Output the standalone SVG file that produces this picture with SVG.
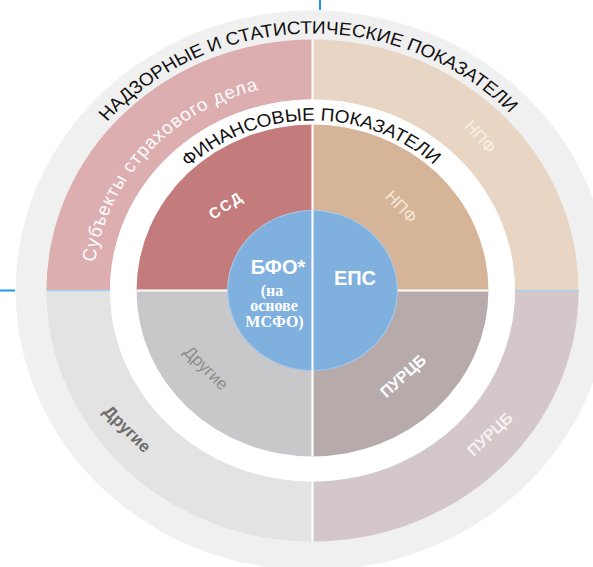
<svg xmlns="http://www.w3.org/2000/svg" width="593" height="567" viewBox="0 0 593 567">
<style>
.t{font-family:"Liberation Sans",Arial,sans-serif}
.title{font-family:"Liberation Sans",Arial,sans-serif;font-size:18px;fill:#111}
.title2{font-family:"Liberation Sans",Arial,sans-serif;font-size:18px;fill:#111}
.wl{font-family:"Liberation Sans",Arial,sans-serif;fill:#fff}
.div{stroke:#fff;stroke-width:2;fill:none}
.blue{stroke:#a3d4ef;stroke-width:1.5}
.art{stroke:#1a9be2;stroke-width:2}
.sf{font-family:"Liberation Serif","Times New Roman",serif;font-weight:bold;font-size:16px;fill:#fff}
</style>
<defs>
<path id="pOuter" d="M-257,0 A257,257 0 0 1 257,0"/>
<path id="pInner" d="M-170,0 A170,170 0 0 1 170,0"/>
<path id="pSub" d="M-207,0 A207,207 0 0 1 207,0"/>
</defs>
<rect width="593" height="567" fill="#fff"/>
<g transform="translate(312.5,290.5) scale(1.06,1)">
  <g id="ring-supervisory">
    <circle r="280" fill="#f0f0f0"/>
    <text class="title"><textPath href="#pOuter" startOffset="49.3%" text-anchor="middle">НАДЗОРНЫЕ И СТАТИСТИЧЕСКИЕ ПОКАЗАТЕЛИ</textPath></text>
  </g>
  <g id="outer-insurance">
    <path d="M-251,0 A251,251 0 0 1 0,-251 L0,-191 A191,191 0 0 0 -191,0 Z" fill="#dcaeb0"/>
    <text class="wl" font-size="18" letter-spacing="0.9"><textPath href="#pSub" startOffset="23.3%" text-anchor="middle">Субъекты страхового дела</textPath></text>
  </g>
  <g id="outer-npf">
    <path d="M0,-251 A251,251 0 0 1 251,0 L191,0 A191,191 0 0 0 0,-191 Z" fill="#e8d5c3"/>
  </g>
  <g id="outer-purcb">
    <path d="M251,0 A251,251 0 0 1 0,251 L0,191 A191,191 0 0 0 191,0 Z" fill="#d3c7c9"/>
  </g>
  <g id="outer-other">
    <path d="M0,251 A251,251 0 0 1 -251,0 L-191,0 A191,191 0 0 0 0,191 Z" fill="#e3e3e3"/>
  </g>
  <g id="ring-financial">
    <circle r="191" fill="#fff"/>
    <text class="title2"><textPath href="#pInner" startOffset="49.7%" text-anchor="middle">ФИНАНСОВЫЕ ПОКАЗАТЕЛИ</textPath></text>
  </g>
  <g id="inner-ssd">
    <path d="M0,0 L-166,0 A166,166 0 0 1 0,-166 Z" fill="#c47b7b"/>
  </g>
  <g id="inner-npf">
    <path d="M0,0 L0,-166 A166,166 0 0 1 166,0 Z" fill="#d5b497"/>
  </g>
  <g id="inner-purcb">
    <path d="M0,0 L166,0 A166,166 0 0 1 0,166 Z" fill="#b6aaab"/>
  </g>
  <g id="inner-other">
    <path d="M0,0 L0,166 A166,166 0 0 1 -166,0 Z" fill="#c8c8ca"/>
  </g>
  <g id="connectors">
    <line class="div" x1="0" y1="-251" x2="0" y2="-191"/>
    <line class="div" x1="0" y1="191" x2="0" y2="251"/>
    <line class="div" x1="0" y1="-166" x2="0" y2="166"/>
    <line class="div" x1="-166" y1="0" x2="166" y2="0" stroke-width="1.5"/>
    <line class="blue" x1="-251" y1="0" x2="-191" y2="0"/>
    <line class="blue" x1="191" y1="0" x2="251" y2="0"/>
  </g>
  <g id="core">
    <circle r="80" fill="#7fb0de" stroke="#a9c9ea" stroke-width="1"/>
    <line class="div" x1="0" y1="-80" x2="0" y2="80" stroke-width="1.5"/>
  </g>
</g>
<g id="labels">
  <text class="wl" font-size="15" font-weight="bold" letter-spacing="2" transform="translate(226,205) rotate(-33)" text-anchor="middle" dominant-baseline="central">ССД</text>
  <text class="wl" font-size="17" style="fill:#f4e7da" transform="translate(401,207) rotate(47)" text-anchor="middle" dominant-baseline="central">НПФ</text>
  <text class="wl" font-size="17" style="fill:#f8efe6" transform="translate(480,137) rotate(48)" text-anchor="middle" dominant-baseline="central">НПФ</text>
  <text class="wl" font-size="16" font-weight="bold" transform="translate(403,376) rotate(-42)" text-anchor="middle" dominant-baseline="central">ПУРЦБ</text>
  <text class="wl" font-size="16" font-weight="bold" style="fill:#f6f1f1" transform="translate(490,434) rotate(-43)" text-anchor="middle" dominant-baseline="central">ПУРЦБ</text>
  <text class="t" font-size="17" fill="#8e8e8e" transform="translate(206,368) rotate(45)" text-anchor="middle" dominant-baseline="central">Другие</text>
  <text class="t" font-size="17" fill="#6e6e6e" font-weight="bold" transform="translate(127,429) rotate(45)" text-anchor="middle" dominant-baseline="central">Другие</text>
  <text class="wl" font-size="20" font-weight="bold" x="278" y="274" text-anchor="middle">БФО*</text>
  <text class="sf" x="272" y="296" text-anchor="middle">(на</text>
  <text class="sf" x="274" y="311" text-anchor="middle">основе</text>
  <text class="sf" x="274.5" y="327" text-anchor="middle">МСФО)</text>
  <text class="wl" font-size="20" font-weight="bold" x="355" y="285" text-anchor="middle">ЕПС</text>
</g>
<g id="frame-lines">
  <line class="art" x1="320" y1="0" x2="320" y2="10"/>
  <line class="art" x1="0" y1="290.5" x2="15" y2="290.5"/>
</g>
</svg>
